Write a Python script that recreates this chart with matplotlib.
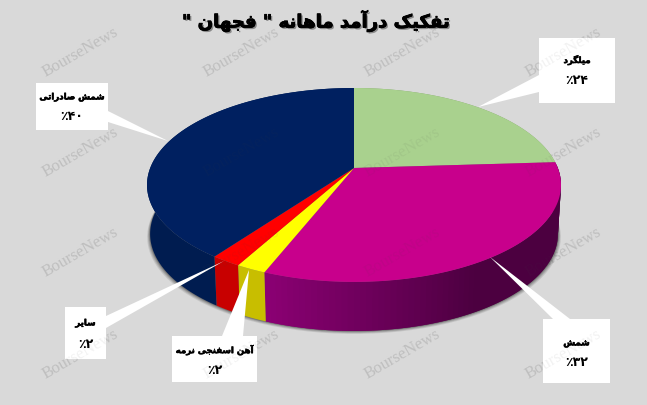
import numpy as np
import matplotlib
matplotlib.use('Agg')
import matplotlib.pyplot as plt
import matplotlib.patheffects as pe
from matplotlib.colors import to_rgb

# data
names = ['میلگرد', 'شمش', 'آهن اسفنجی نرمه', 'سایر', 'شمش صادراتی']
shares = [24, 32, 2, 2, 40]
share_labels = ['٪۲۴', '٪۳۲', '٪۲', '٪۲', '٪۴۰']
title_text = 'تفکیک درآمد ماهانه " فجهان "'
watermark = 'BourseNews'

top_colors = ['#a9d18e', '#c8008c', '#ffff00', '#ff0000', '#002060']
wall_start = ['#7f9f6a', '#4c0040', '#c8be00', '#c80000', '#001c50']
wall_end = ['#7f9f6a', '#8c0074', '#c8be00', '#c80000', '#001c50']

# isolated, final, initial, medial
forms = {
    'ا': 'ﺍﺎ', 'آ': 'ﺁﺂ', 'د': 'ﺩﺪ', 'ر': 'ﺭﺮ',
    'ب': 'ﺏﺐﺑﺒ', 'ت': 'ﺕﺖﺗﺘ', 'ج': 'ﺝﺞﺟﺠ', 'س': 'ﺱﺲﺳﺴ', 'ش': 'ﺵﺶﺷﺸ',
    'ص': 'ﺹﺺﺻﺼ', 'ف': 'ﻑﻒﻓﻔ', 'ل': 'ﻝﻞﻟﻠ', 'م': 'ﻡﻢﻣﻤ', 'ن': 'ﻥﻦﻧﻨ',
    'ه': 'ﻩﻪﻫﻬ', 'ی': 'ﯼﯽﯾﯿ', 'ک': 'ﮎﮏﮐﮑ', 'گ': 'ﮒﮓﮔﮕ',
}
no_left_join = 'اآدر'


# matplotlib does not shape arabic, so pick the joined forms and reverse
def shape(word):
    out = []
    for i, c in enumerate(word):
        if c not in forms:
            out.append(c)
            continue
        before = i > 0 and word[i - 1] in forms and word[i - 1] not in no_left_join
        after = i + 1 < len(word) and word[i + 1] in forms and c not in no_left_join
        f = forms[c]
        if before and after:
            out.append(f[3])
        elif after:
            out.append(f[2])
        elif before:
            out.append(f[1])
        else:
            out.append(f[0])
    return ''.join(out[::-1])


def shape_line(text):
    return ' '.join(shape(w) for w in text.split(' ')[::-1])


# perspective of the unit circle on to the picture
def project(t, drop=0.0, squeeze=1.0):
    u, v = np.sin(t), np.cos(t)
    w = 1 + 0.175 * v
    return 354 + 203.8 * squeeze * u / w, (168 - 64.6 * v) / w + drop


def rim(a, b, drop=0.0, squeeze=1.0):
    t = np.linspace(a, b, 120)
    return project(t, drop, squeeze)


fig = plt.figure(figsize=(6.47, 4.05), dpi=100, facecolor='#d9d9d9')
ax = fig.add_axes([0, 0, 1, 1])
ax.set_xlim(0, 647)
ax.set_ylim(405, 0)
ax.axis('off')

# watermarks on the background, a fainter copy goes over the pie later
for wx in [80, 241, 402, 563]:
    for wy in [52, 152, 252, 354]:
        ax.text(wx, wy, watermark, fontsize=12, family='Liberation Serif', color='#c9c9c9',
                rotation=30, ha='center', va='center', zorder=1)

# soft shadow under the pie
sx, sy = rim(0, 2 * np.pi, 49, 0.985)
for grow, a in zip([3.0, 2.2, 1.4, 0.7], [0.12, 0.16, 0.2, 0.3]):
    ax.fill(354 + (sx - 354) * (1 + grow / 205), sy + grow, color='#303030', alpha=a, lw=0, zorder=2)

edges = np.radians(np.cumsum([0] + shares) * 3.6)

# side wall, the shaded slice is cut in strips that overlap the next one
for i in range(len(shares)):
    a, b = edges[i], edges[i + 1]
    n = 1 if wall_start[i] == wall_end[i] else 80
    ts = np.linspace(a, b, n + 1)
    c0, c1 = np.array(to_rgb(wall_start[i])), np.array(to_rgb(wall_end[i]))
    for j in range(n):
        stop = ts[min(j + 2, n)]
        x0, y0 = rim(ts[j], stop)
        x1, y1 = rim(ts[j], stop, 49, 0.985)
        f = np.clip(((j + 0.5) / n - 0.55) / 0.45, 0, 1)
        ax.fill(np.r_[x0, x1[::-1]], np.r_[y0, y1[::-1]], color=c0 + (c1 - c0) * f, lw=0, zorder=3)

# top face
for i in range(len(shares)):
    x, y = rim(edges[i], edges[i + 1])
    ax.fill(np.r_[354, x], np.r_[168, y], color=top_colors[i], lw=0, zorder=4)

# callouts: box left, top, right, bottom and the pointer
boxes = [(539, 38, 615, 103), (543, 319, 610, 383), (172, 336, 257, 382), (65, 307, 106, 359), (36, 83, 108, 130)]
tips = [(478, 107), (490, 257), (249, 270), (224, 261), (168, 141)]
roots = [((539, 75), (539, 92)), ((553, 319), (570, 319)), ((222, 336), (243, 336)),
         ((106, 316), (106, 328)), ((108, 111), (108, 122))]
name_y = [60, 343, 350, 323, 97]
share_y = [80, 362, 370, 344, 117]
for i in range(len(names)):
    l, t, r, b = boxes[i]
    ax.fill([l, r, r, l], [t, t, b, b], color='white', lw=0, zorder=5)
    ax.fill([roots[i][0][0], roots[i][1][0], tips[i][0]], [roots[i][0][1], roots[i][1][1], tips[i][1]],
            color='white', lw=0, zorder=5)
    mx = (l + r) / 2
    ax.text(mx, name_y[i], shape_line(names[i]), fontsize=6.2, family='DejaVu Sans', fontweight='bold',
            ha='center', va='center', zorder=6, path_effects=[pe.withStroke(linewidth=0.4, foreground='black')])
    ax.text(mx, share_y[i], share_labels[i], fontsize=9, family='DejaVu Sans',
            fontweight='bold', ha='center', va='center', zorder=6)

ax.text(316, 21, shape_line(title_text), fontsize=13, family='DejaVu Sans', fontweight='bold', ha='center',
        va='center', zorder=6,
        path_effects=[pe.withSimplePatchShadow(offset=(1.2, -1.2), shadow_rgbFace='#777777', alpha=0.8),
                      pe.withStroke(linewidth=0.6, foreground='black')])

# faint copy over the boxes and the pie
for wx in [80, 241, 402, 563]:
    for wy in [52, 152, 252, 354]:
        ax.text(wx, wy, watermark, fontsize=12, family='Liberation Serif', color='#404040', alpha=0.07,
                rotation=30, ha='center', va='center', zorder=7)

fig.savefig('out.png', dpi=100, facecolor=fig.get_facecolor())
